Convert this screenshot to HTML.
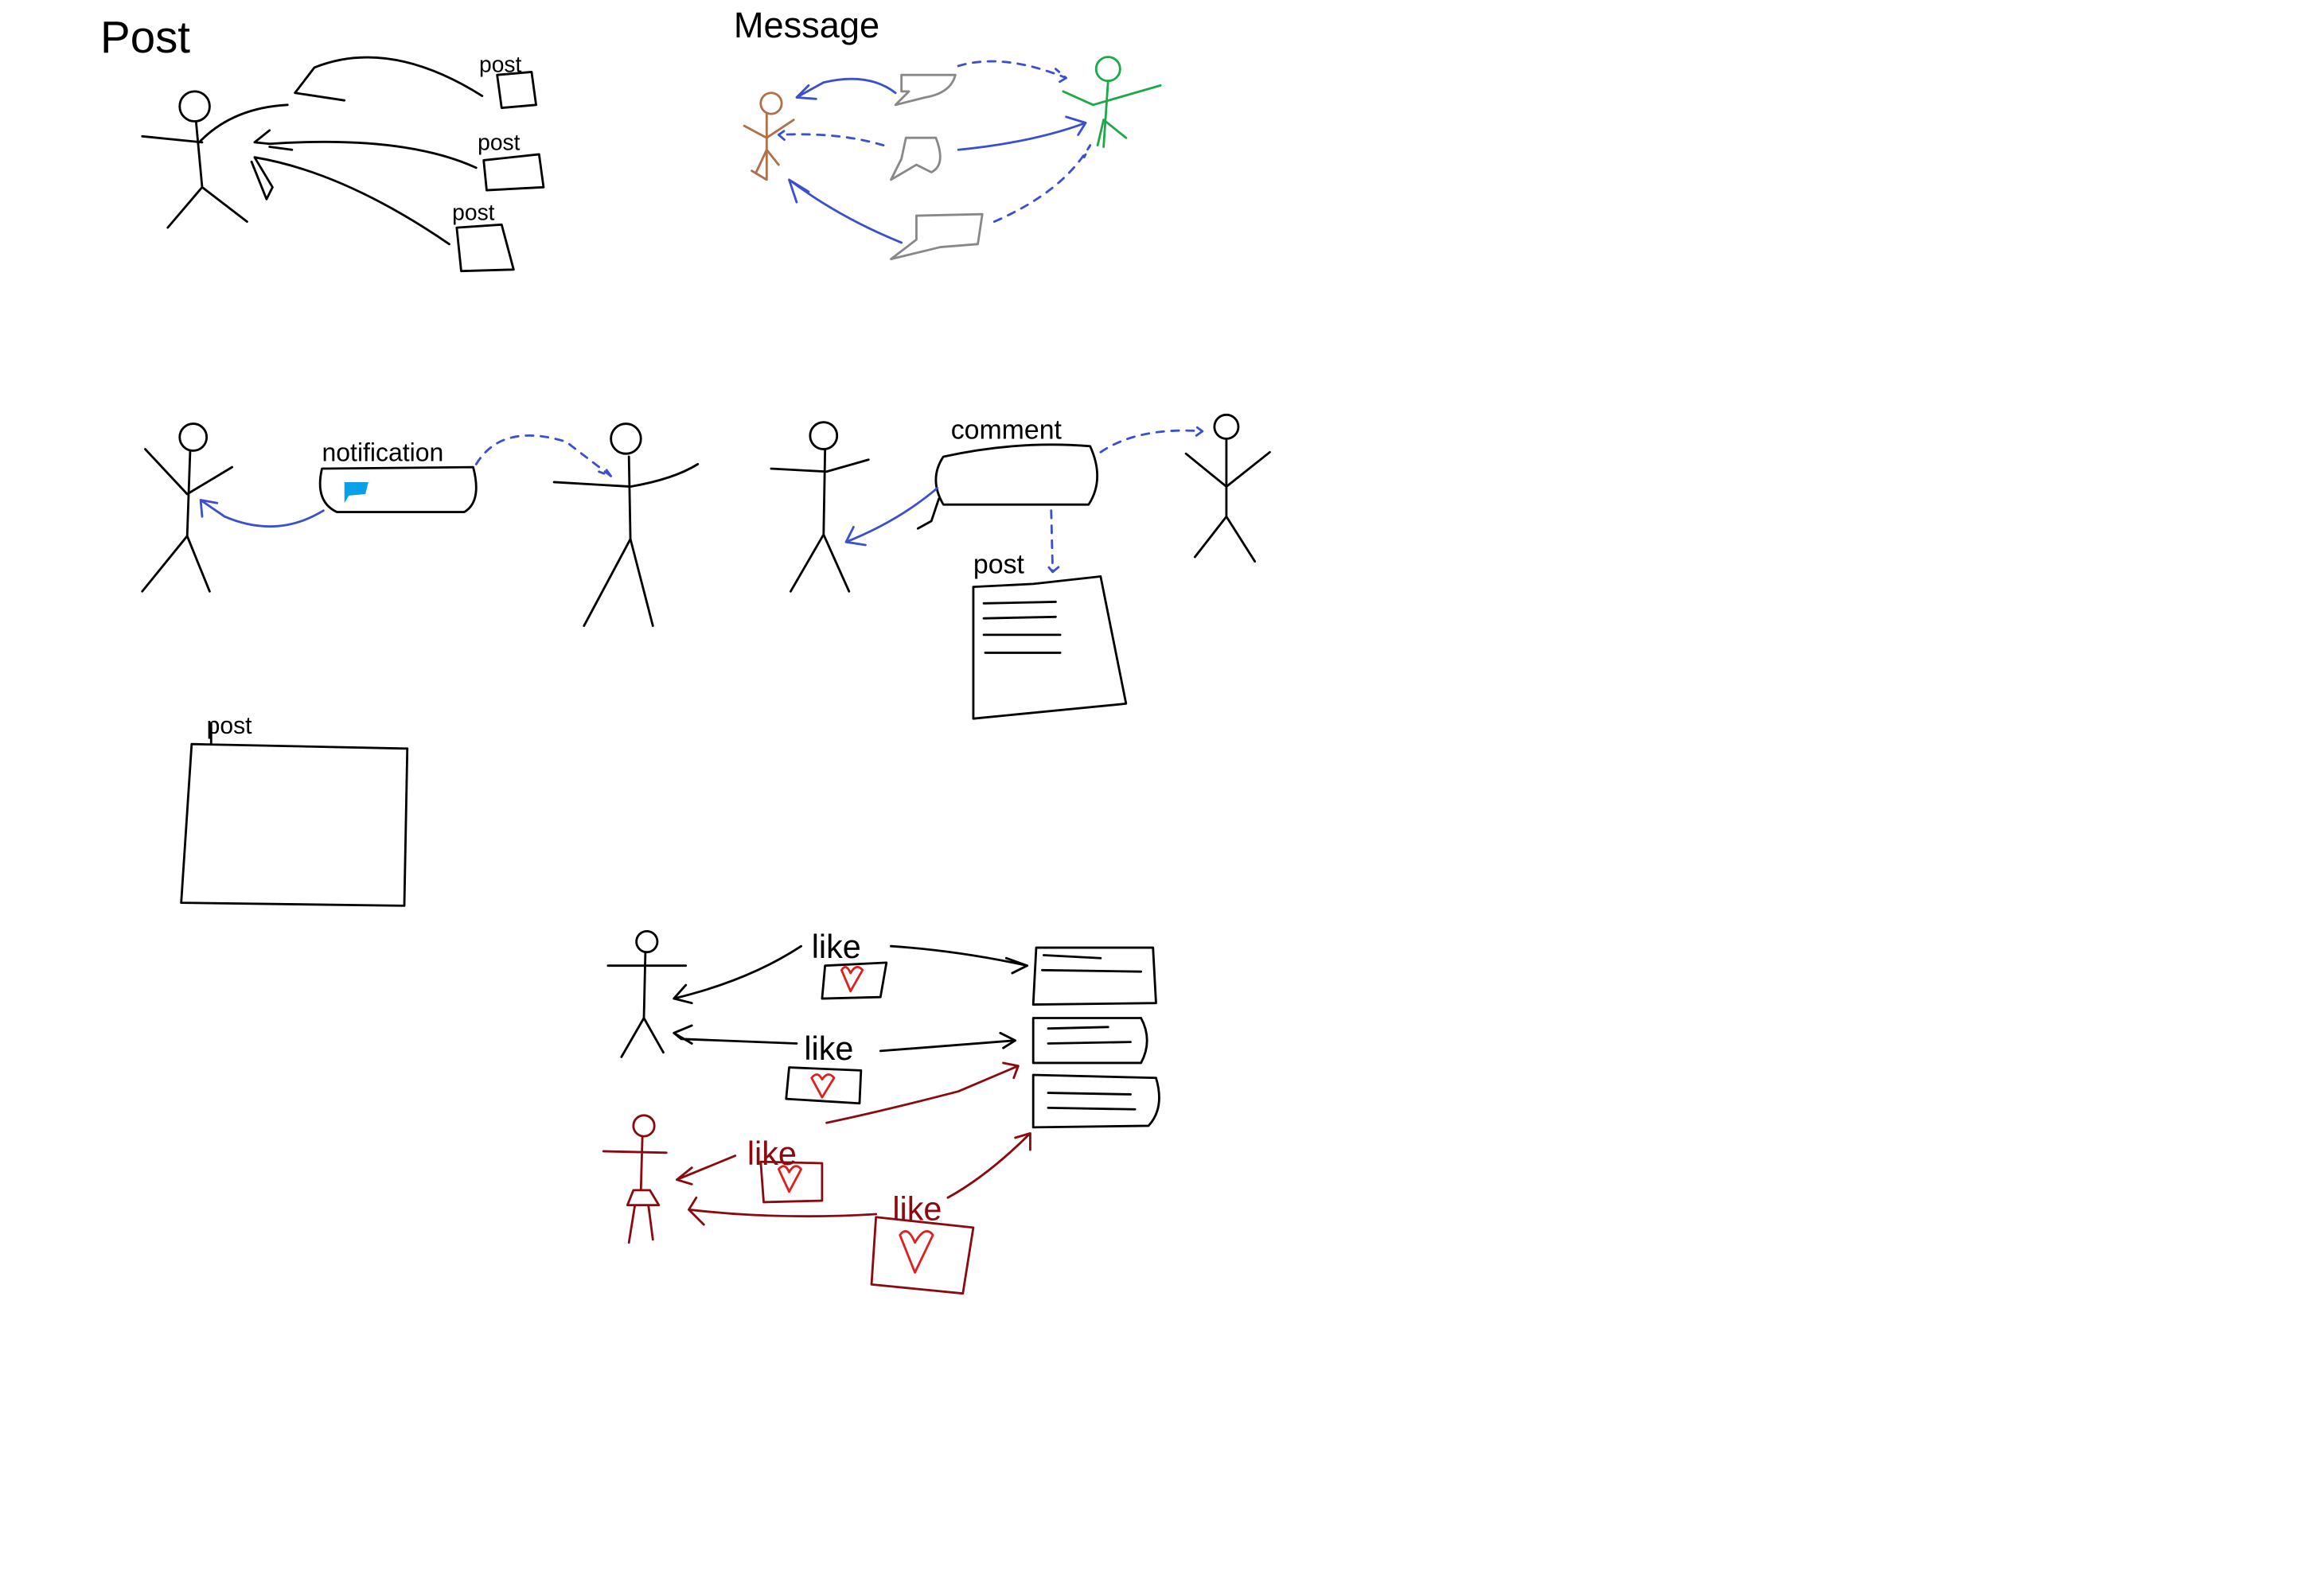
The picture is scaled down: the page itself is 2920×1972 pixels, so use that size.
<!DOCTYPE html>
<html><head><meta charset="utf-8"><style>html,body{margin:0;padding:0;background:#fff}svg{display:block}text{font-family:"Liberation Sans",sans-serif}</style></head>
<body>
<svg width="2920" height="1972" viewBox="0 0 1552 1048" xmlns="http://www.w3.org/2000/svg" fill="none" stroke-linecap="round" stroke-linejoin="round">
<g stroke="#000" stroke-width="1.5">
<!-- Post section -->
<circle cx="130" cy="71" r="10"/>
<path d="M131 82 L135 125 M95 91 L135 95 M133 95 Q155 72 192 70 M135 125 L112 152 M135 125 L165 148"/>
<path d="M322 64 Q260 25 210 45 L197 62 L230 67"/>
<path d="M318 112 Q270 90 180 96 L170 95 L180 87 M180 98 L195 100"/>
<path d="M300 163 Q230 115 170 105 L182 125 L178 133 L168 108"/>
<path d="M332 50 L355 48 L358 70 L335 72 Z"/>
<path d="M323 107 L360 103 L363 125 L325 127 Z"/>
<path d="M305 152 L335 150 L343 180 L308 181 Z"/>
</g>
<g fill="#000">
<text x="67" y="35" font-size="30">Post</text>
<text x="320" y="48" font-size="15">post</text>
<text x="319" y="100" font-size="15">post</text>
<text x="302" y="147" font-size="15">post</text>
<text x="490" y="25" font-size="24">Message</text>
</g>
<!-- Message -->
<g stroke="#b0704a" stroke-width="1.5"><circle cx="515" cy="69" r="7"/><path d="M512 76 L512 120 L502 114 M497 84 L512 92 L530 80 M512 100 L505 115 M512 100 L520 110"/></g>
<g stroke="#1fa84a" stroke-width="1.5"><circle cx="740" cy="46" r="8"/><path d="M740 54 L737 98 M710 61 L730 70 L775 57 M737 80 L752 92 M737 80 L733 97"/></g>
<g stroke="#888" stroke-width="1.5">
<path d="M602 50 L638 50 Q635 62 618 65 L598 70 L607 61 L602 61 Z"/>
<path d="M605 92 L625 92 Q632 110 622 115 L612 110 L595 120 L602 106 Z"/>
<path d="M612 144 L656 143 L653 163 L628 165 L595 173 L612 160 Z"/>
</g>
<g stroke="#3b4fd0" stroke-width="1.5">
<path d="M598 62 Q580 48 550 55 L532 65 L540 57 M532 65 L545 66"/>
<path d="M640 100 Q690 95 725 82 L712 78 M725 82 L720 90"/>
<path d="M602 162 Q560 145 527 120 L532 135 M527 120 L540 128"/>
<path d="M590 97 Q560 88 520 90 L527 85 M520 90 L527 96" stroke-dasharray="5 5"/>
<path d="M640 44 Q670 35 712 52 L705 46 M712 52 L707 55" stroke-dasharray="5 5"/>
<path d="M664 148 Q710 128 728 97 L724 105" stroke-dasharray="5 5"/>
</g>
<!-- Notification row -->
<g stroke="#000" stroke-width="1.5">
<circle cx="129" cy="292" r="9"/>
<path d="M127 301 L125 358 M97 300 L125 330 L155 312 M125 358 L95 395 M125 358 L140 395"/>
<circle cx="418" cy="293" r="10"/>
<path d="M420 305 L421 360 M370 322 L421 325 Q450 320 466 310 M421 360 L390 418 M421 360 L436 418"/>
<path d="M215 313 L316 312 Q322 335 310 342 L225 342 Q210 335 215 313 Z"/>
</g>
<text x="215" y="308" font-size="17" fill="#000">notification</text>
<path d="M230 322 L246 322 L244 330 L233 331 L230 336 Z" fill="#0aa0e8"/>
<g stroke="#3b4fd0" stroke-width="1.5">
<path d="M216 341 Q185 360 150 345 L134 334 L135 345 M134 334 L145 336"/>
<path d="M318 310 Q335 282 378 295 L408 318 L400 315 M408 318 L403 311" stroke-dasharray="5 5"/>
</g>
<!-- Comment row -->
<g stroke="#000" stroke-width="1.5">
<circle cx="550" cy="291" r="9"/>
<path d="M551 300 L550 357 M515 313 L552 315 L580 307 M550 357 L528 395 M550 357 L567 395"/>
<circle cx="819" cy="285" r="8"/>
<path d="M819 293 L819 345 M792 303 L819 325 L848 302 M819 345 L798 372 M819 345 L838 375"/>
<path d="M630 305 Q680 294 728 298 Q738 320 727 337 L630 337 Q620 320 630 305 Z"/>
<path d="M627 333 L622 348 L613 353"/>
<path d="M650 392 L690 390 L735 385 L752 470 L650 480 Z"/>
<path d="M657 403 L705 402 M657 413 L705 412 M657 424 L708 424 M658 436 L708 436"/>
</g>
<text x="635" y="293" font-size="18" fill="#000">comment</text>
<text x="650" y="383" font-size="18" fill="#000">post</text>
<g stroke="#3b4fd0" stroke-width="1.5">
<path d="M626 326 Q600 348 565 362 L570 352 M565 362 L578 364"/>
<path d="M735 302 Q760 285 803 288 L796 283 M803 288 L796 293" stroke-dasharray="5 5"/>
<path d="M702 341 L703 382 L698 376 M703 382 L709 377" stroke-dasharray="5 5"/>
</g>
<!-- post box -->
<g stroke="#000" stroke-width="1.5">
<path d="M128 497 L272 500 L270 605 L121 603 Z M141 497 L141 483"/>
</g>
<text x="138" y="490" font-size="16" fill="#000">post</text>
<!-- Like section -->
<g stroke="#000" stroke-width="1.5">
<circle cx="432" cy="629" r="7"/>
<path d="M431 636 L430 680 M406 645 L458 645 M430 680 L415 706 M430 680 L443 703"/>
<path d="M535 632 Q500 655 450 667 L458 658 M450 667 L462 670"/>
<path d="M532 697 L455 694 L450 690 L462 685 M450 690 L462 697"/>
<path d="M595 632 Q640 635 686 645 L672 640 M686 645 L676 650"/>
<path d="M588 702 L678 695 L668 690 M678 695 L670 700"/>
<path d="M551 645 L592 643 L588 666 L549 667 Z"/>
<path d="M527 713 L575 715 L574 737 L525 734 Z"/>
<path d="M692 633 L770 633 L772 670 L690 671 Z M697 638 L735 640 M696 648 L762 649"/>
<path d="M690 680 L762 680 Q770 695 762 710 L690 710 Z M700 687 L740 686 M700 697 L755 696"/>
<path d="M690 718 L772 720 Q778 740 767 752 L690 753 Z M700 730 L755 731 M700 740 L758 741"/>
</g>
<g fill="#000" font-size="22"><text x="542" y="640">like</text><text x="537" y="708">like</text></g>
<g stroke="#e02020" stroke-width="1.5">
<path d="M568 662 L562 648 Q565 643 568 650 Q572 643 576 648 Z"/>
<path d="M549 733 L542 720 Q546 715 549 721 Q553 715 557 720 Z"/>
<path d="M527 796 L520 781 Q524 776 527 783 Q531 776 535 781 Z"/>
<path d="M611 850 L601 825 Q606 818 611 830 Q618 818 623 825 Z"/>
</g>
<g stroke="#8b0a10" stroke-width="1.5">
<circle cx="430" cy="752" r="7"/>
<path d="M429 759 L428 795 M403 769 L445 770 M423 795 L434 795 L440 805 L419 805 Z M424 805 L420 830 M433 805 L436 828"/>
<path d="M491 772 L452 788 L462 780 M452 788 L462 791"/>
<path d="M585 811 Q520 815 460 808 L465 800 M460 808 L470 818"/>
<path d="M552 750 Q590 742 640 729 L680 712 L670 710 M680 712 L677 720"/>
<path d="M633 800 Q660 785 688 757 L678 760 M688 757 L688 768"/>
<path d="M508 776 L549 777 L549 802 L510 803 Z"/>
<path d="M585 813 L650 820 L643 864 L582 858 Z"/>
</g>
<g fill="#8b0a10" font-size="22"><text x="499" y="778">like</text><text x="596" y="815">like</text></g>
</svg>
</body></html>
